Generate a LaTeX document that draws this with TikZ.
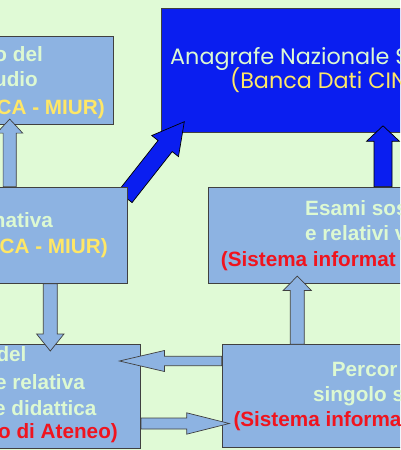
\documentclass[tikz,border=0pt]{standalone}
\usepackage{fontspec}
\setmainfont{Liberation Sans}
\newfontfamily\casualfont{Poppins}
\usetikzlibrary{calc}
\definecolor{bgc}{HTML}{E0FAD6}
\definecolor{boxc}{HTML}{8DB3E2}
\definecolor{edgec}{HTML}{404040}
\definecolor{lightc}{HTML}{DDF9D2}
\definecolor{yelc}{HTML}{FFE766}
\definecolor{redc}{HTML}{F0141E}
\definecolor{bluec}{HTML}{0A1EF0}
\newcommand{\blockarr}[6]{%
  \path ($(#3)!#6!(#2)$) coordinate (ba-h);
  \draw[#1] ($(#2)!#4!90:(#3)$) -- ($(ba-h)!#4!90:(#3)$) -- ($(ba-h)!#5!90:(#3)$) -- (#3)
    -- ($(ba-h)!#5!-90:(#3)$) -- ($(ba-h)!#4!-90:(#3)$) -- ($(#2)!#4!-90:(#3)$) -- cycle;
}
\tikzset{
  box/.style={draw=edgec, line width=1.1pt, fill=boxc, rectangle, anchor=north west, inner sep=0pt},
  bluebox/.style={draw=edgec, line width=1.1pt, fill=bluec, rectangle, anchor=north west, inner sep=0pt},
  barrow/.style={draw=edgec, line width=0.7pt, fill=boxc, line join=miter},
  bluearrow/.style={draw=black, line width=0.7pt, fill=bluec, line join=miter},
  txt/.style={inner sep=0pt, font=\fontsize{20.7}{24}\selectfont\bfseries},
  ctxt/.style={inner sep=0pt, font=\fontsize{22.3}{26}\selectfont\casualfont},
}
\begin{document}
\begin{tikzpicture}[x=1pt, y=-1pt]
\useasboundingbox (0,0) rectangle (400,450);
\clip (0,0) rectangle (400,450);
\fill[bgc] (0,0) rectangle (400,450);
% boxes
\node[box, minimum width=262.7pt, minimum height=88pt] (A) at (-150,36) {};
\node[bluebox, minimum width=400pt, minimum height=123.4pt] (N) at (160.7,8.3) {};
\node[box, minimum width=350pt, minimum height=96pt] (C) at (208.3,186.7) {};
\node[box, minimum width=290pt, minimum height=103.5pt] (D) at (-150,344) {};
\node[box, minimum width=340pt, minimum height=103pt] (E) at (221.7,344.3) {};
% diagonal blue arrow (under box B)
\coordinate (dgs) at (125,197);
\coordinate (dgt) at (184.3,121.7);
\blockarr{bluearrow}{dgs}{dgt}{9pt}{17pt}{31pt}
\node[box, minimum width=276.7pt, minimum height=96pt] (B) at (-150,186.7) {};
% arrow anchors
\coordinate (x1) at (9.7,0);
\coordinate (x2) at (50.3,0);
\coordinate (x3) at (383,0);
\coordinate (x4) at (297.3,0);
\coordinate (y6) at (0,361);
\coordinate (y7) at (0,423.5);
\coordinate (s1) at (B.north -| x1);
\coordinate (t1) at ($(A.south -| x1)+(0,-6)$);
\coordinate (s2) at (B.south -| x2);
\coordinate (t2) at ($(D.north -| x2)+(0,7)$);
\coordinate (s4) at (C.north -| x3);
\coordinate (t4) at ($(N.south -| x3)+(0,-7)$);
\coordinate (s5) at (E.north -| x4);
\coordinate (t5) at ($(C.south -| x4)+(0,-7.7)$);
\coordinate (s6) at (E.west |- y6);
\coordinate (t6) at ($(D.east |- y6)+(-21.7,0)$);
\coordinate (s7) at (D.east |- y7);
\coordinate (t7) at ($(E.west |- y7)+(7.5,0)$);
\blockarr{barrow}{s1}{t1}{6.6pt}{13pt}{14pt}
\blockarr{barrow}{s2}{t2}{7pt}{13.7pt}{17pt}
\blockarr{bluearrow}{s4}{t4}{9pt}{16.5pt}{15.5pt}
\blockarr{barrow}{s5}{t5}{7pt}{14pt}{14.3pt}
\blockarr{barrow}{s6}{t6}{4.7pt}{10.5pt}{45pt}
\blockarr{barrow}{s7}{t7}{5.5pt}{10.7pt}{42.5pt}
% texts box A
\node[txt, text=lightc, anchor=base east] (a1) at (43,61.7) {o del};
\node[txt, text=lightc, anchor=base east] (a2) at (38,86.7) {udio};
\node[txt, text=yelc, anchor=base east] (a3) at (105,114) {CA - MIUR)};
% box N
\node[ctxt, text=lightc, anchor=base west] (n1) at (170,64) {Anagrafe Nazionale S};
\node[ctxt, text=yelc, anchor=base west] (n2) at (230,88) {(Banca Dati CIN};
% box B
\node[txt, text=lightc, anchor=base east] (b1) at (53,227.3) {nativa};
\node[txt, text=yelc, anchor=base east] (b2) at (108,253.3) {CA - MIUR)};
% box C
\node[txt, text=lightc, anchor=base west] (c1) at (305,215.7) {Esami sos};
\node[txt, text=lightc, anchor=base west] (c2) at (305,240) {e relativi v};
\node[txt, text=redc, anchor=base west] (c3) at (220.7,266) {(Sistema informat};
% box D
\node[txt, text=lightc, anchor=base east] (d1) at (26.7,361.7) {del};
\node[txt, text=lightc, anchor=base east] (d2) at (85,389.3) {e relativa};
\node[txt, text=lightc, anchor=base east] (d3) at (96.7,415.7) {e didattica};
\node[txt, text=redc, anchor=base east] (d4) at (118,438.3) {o di Ateneo)};
% box E
\node[txt, text=lightc, anchor=base west] (e1) at (331.7,376.7) {Percor};
\node[txt, text=lightc, anchor=base west] (e2) at (313,401.7) {singolo s};
\node[txt, text=redc, anchor=base west] (e3) at (233.3,426.7) {(Sistema informa};
\end{tikzpicture}
\end{document}
